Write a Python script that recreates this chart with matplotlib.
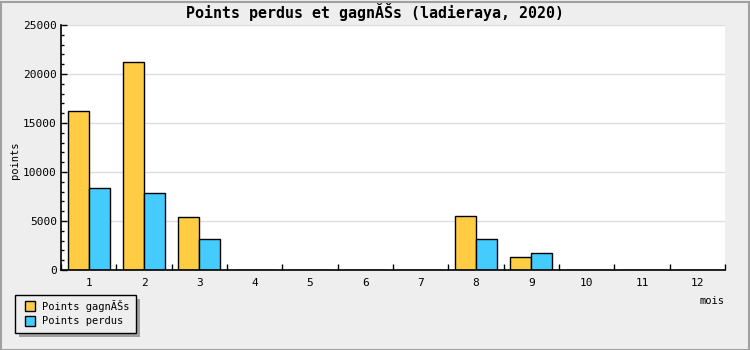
import matplotlib
matplotlib.use("Agg")
import matplotlib.pyplot as plt
from matplotlib.patches import Rectangle
from matplotlib.ticker import MultipleLocator, FixedLocator, NullFormatter
import numpy as np

months = ["1", "2", "3", "4", "5", "6", "7", "8", "9", "10", "11", "12"]
points_gagnes = [16200, 21200, 5430, 0, 0, 0, 0, 5560, 1340, 0, 0, 0]
points_perdus = [8400, 7900, 3160, 0, 0, 0, 0, 3170, 1760, 0, 0, 0]
label_gagnes = "Points gagnĂŠs"
label_perdus = "Points perdus"
title = "Points perdus et gagnĂŠs (ladieraya, 2020)"

col_gagnes = "#FFCC44"
col_perdus = "#44CCFF"
mono = "DejaVu Sans Mono"

W, H = 750, 350
fig = plt.figure(figsize=(W / 100, H / 100), dpi=100)
fig.patch.set_facecolor("#EEEEEE")

# outer frame
fig.patches.append(Rectangle((0.5 / W, 0.5 / H), 1 - 2 / W, 1 - 2 / H,
                             transform=fig.transFigure, fill=False,
                             edgecolor="#A0A0A0", linewidth=1.5))

left, right, top, bottom = 61, 725, 25, 270
ax = fig.add_axes([left / W, 1 - bottom / H, (right - left) / W, (bottom - top) / H])
ax.set_facecolor("white")

x = np.arange(len(months))
bw = 0.38
ax.bar(x - bw / 2, points_gagnes, width=bw, color=col_gagnes,
       edgecolor="black", linewidth=1.0, zorder=3)
ax.bar(x + bw / 2, points_perdus, width=bw, color=col_perdus,
       edgecolor="black", linewidth=1.0, zorder=3)

ax.set_xlim(-0.5, len(months) - 0.5)
ax.set_ylim(0, 25000)

# y axis
ax.yaxis.set_major_locator(MultipleLocator(5000))
ax.yaxis.set_minor_locator(MultipleLocator(1000))
ax.grid(axis="y", which="major", color="#DDDDDD", linewidth=1.0, zorder=0)
ax.tick_params(axis="y", which="major", direction="in", length=4, width=1,
               labelsize=8, pad=3)
ax.tick_params(axis="y", which="minor", direction="in", length=2.5, width=1)

# x axis: ticks between categories, labels centred
ax.xaxis.set_major_locator(FixedLocator(np.arange(-0.5, len(months), 1.0)))
ax.xaxis.set_major_formatter(NullFormatter())
ax.xaxis.set_minor_locator(FixedLocator(x))
ax.set_xticklabels(months, minor=True)
ax.tick_params(axis="x", which="major", direction="in", length=4, width=1)
ax.tick_params(axis="x", which="minor", length=0, labelsize=8, pad=6)

for lbl in ax.get_yticklabels() + ax.get_xticklabels(minor=True):
    lbl.set_family(mono)

for s in ["top", "right"]:
    ax.spines[s].set_visible(False)
for s in ["left", "bottom"]:
    ax.spines[s].set_linewidth(1.2)
    ax.spines[s].set_zorder(4)

# texts
fig.text(375 / W, 1 - 12 / H, title, ha="center", va="center",
         family=mono, fontweight="bold", fontsize=10.8)
fig.text(15 / W, 1 - 160 / H, "points", rotation=90, ha="center", va="center",
         family=mono, fontsize=7.5)
fig.text(724 / W, 1 - 301 / H, "mois", ha="right", va="center",
         family=mono, fontsize=7.5)

# legend box with shadow
lx0, ly0, lx1, ly1 = 15, 295, 136, 333
fig.patches.append(Rectangle(((lx0 + 4) / W, 1 - (ly1 + 4) / H),
                             (lx1 - lx0) / W, (ly1 - ly0) / H,
                             transform=fig.transFigure, facecolor="#A0A0A0",
                             edgecolor="none"))
fig.patches.append(Rectangle((lx0 / W, 1 - ly1 / H), (lx1 - lx0) / W, (ly1 - ly0) / H,
                             transform=fig.transFigure, facecolor="#EEEEEE",
                             edgecolor="black", linewidth=1.0))
for yc, col, lab in [(306, col_gagnes, label_gagnes), (321, col_perdus, label_perdus)]:
    fig.patches.append(Rectangle((25 / W, 1 - (yc + 5) / H), 10 / W, 10 / H,
                                 transform=fig.transFigure, facecolor=col,
                                 edgecolor="black", linewidth=1.0))
    fig.text(42 / W, 1 - yc / H, lab, ha="left", va="center",
             family=mono, fontsize=7.5)

fig.savefig("out.png", dpi=100, facecolor=fig.get_facecolor())
